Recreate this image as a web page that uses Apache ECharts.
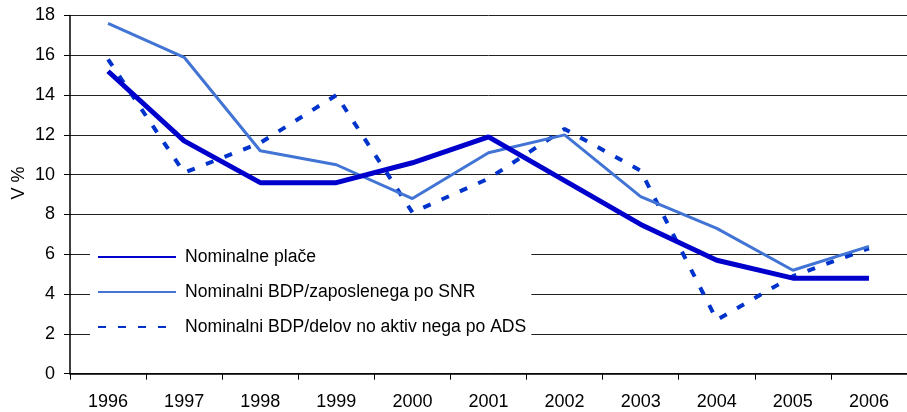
<!DOCTYPE html>
<html>
<head>
<meta charset="utf-8">
<script src="https://cdn.jsdelivr.net/npm/echarts@6/dist/echarts.min.js"></script>
<style>
  html, body { margin: 0; padding: 0; background: #fff; }
  #chart { width: 907px; height: 412px; }
</style>
</head>
<body>
<div id="chart"></div>
<script>
// podatki
var years = ['1996', '1997', '1998', '1999', '2000', '2001', '2002', '2003', '2004', '2005', '2006'];
var place = [15.2, 11.7, 9.6, 9.6, 10.6, 11.9, 9.7, 7.5, 5.7, 4.8, 4.8];
var bdpSNR = [17.6, 15.9, 11.2, 10.5, 8.8, 11.1, 12.0, 8.9, 7.3, 5.2, 6.4];
var bdpADS = [15.8, 10.1, 11.6, 14.0, 8.1, 9.8, 12.3, 10.2, 2.7, 4.9, 6.3];
var names = ['Nominalne plače', 'Nominalni BDP/zaposlenega po SNR', 'Nominalni BDP/delov no aktiv nega po ADS'];

var font = 'Liberation Sans, Arial, sans-serif';
var myChart = echarts.init(document.getElementById('chart'));

myChart.setOption({
    animation: false,
    textStyle: { fontFamily: font },
    grid: { left: 70, top: 15.5, right: -12.5, bottom: 38.3, containLabel: false },
    graphic: [{
        type: 'text',
        x: 19.5,
        y: 183,
        rotation: Math.PI / 2,
        style: { text: 'V %', fontSize: 18, fontFamily: font, fill: '#000', align: 'center', verticalAlign: 'middle' }
    }],
    legend: {
        orient: 'vertical',
        left: 90,
        top: 238,
        padding: [10, 5, 10, 7],
        backgroundColor: '#fff',
        itemWidth: 78,
        itemHeight: 20,
        itemGap: 17,
        itemStyle: { opacity: 0 },
        textStyle: { fontSize: 17.6, color: '#000', fontFamily: font, padding: [0, 0, 0, 4] },
        data: names
    },
    xAxis: {
        type: 'category',
        data: years,
        boundaryGap: true,
        axisLine: { lineStyle: { color: '#000', width: 1.5 } },
        axisTick: { show: true, length: 6, interval: 0, lineStyle: { color: '#000' } },
        axisLabel: { fontSize: 18, color: '#000', margin: 19, interval: 0 }
    },
    yAxis: {
        type: 'value',
        min: 0,
        max: 18,
        interval: 2,
        axisLine: { show: true, lineStyle: { color: '#000', width: 1.5 } },
        axisTick: { show: true, length: 6, lineStyle: { color: '#000' } },
        axisLabel: { fontSize: 18, color: '#000', margin: 15 },
        splitLine: { show: true, lineStyle: { color: '#222', width: 1 } }
    },
    series: [
        {
            name: names[0],
            type: 'line',
            data: place,
            symbol: 'none',
            color: '#0000CC',
            lineStyle: { color: '#0000CC', width: 5 },
            z: 4
        },
        {
            name: names[1],
            type: 'line',
            data: bdpSNR,
            symbol: 'none',
            color: '#4174D4',
            lineStyle: { color: '#4174D4', width: 3 },
            z: 3
        },
        {
            name: names[2],
            type: 'line',
            data: bdpADS,
            symbol: 'none',
            color: '#0033CC',
            lineStyle: { color: '#0033CC', width: 4, type: [8, 12] },
            z: 2
        }
    ]
});
</script>
</body>
</html>
